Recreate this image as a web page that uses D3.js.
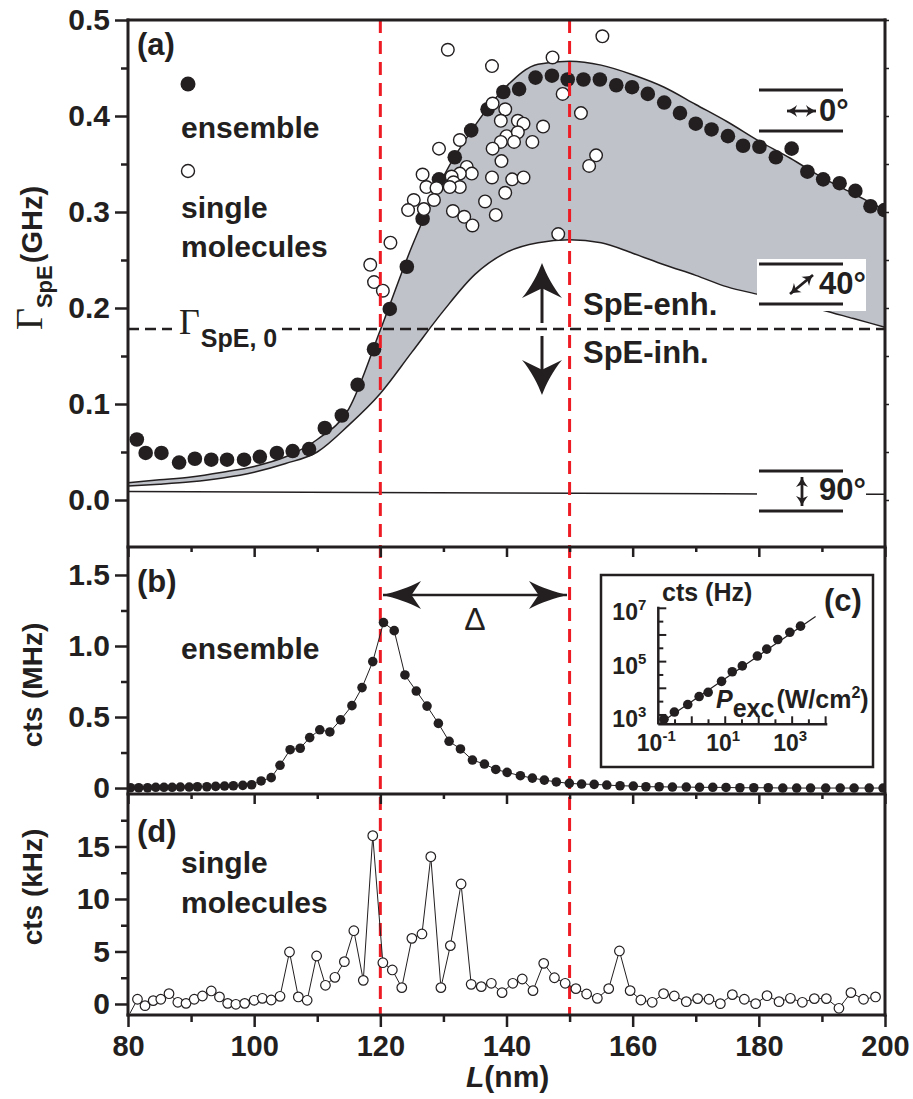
<!DOCTYPE html>
<html>
<head>
<meta charset="utf-8">
<script src="https://cdn.jsdelivr.net/npm/d3@7"></script>
<style>
  body { margin: 0; background: #fff; }
  text { font-family: "Liberation Sans", Arial, sans-serif; font-weight: bold; fill: #231f20; }
</style>
</head>
<body>
<svg id="chart" width="913" height="1099"></svg>
<script>
// ---- data ----
// (a) ensemble: L (nm), Gamma_SpE (GHz)
var ensA_L = [81.4, 82.8, 85.3, 88.1, 90.6, 93.2, 95.7, 98.4, 100.9, 103.6, 106.1, 108.7, 111.2, 113.9, 116.4, 119.0, 121.5, 124.2, 126.7, 129.3, 131.8, 134.4, 137.0, 139.5, 142.0, 144.6, 147.2, 149.7, 152.2, 154.8, 157.4, 159.9, 162.4, 165.0, 167.5, 170.0, 172.5, 175.1, 177.5, 180.1, 182.7, 185.2, 187.7, 190.2, 192.8, 195.3, 197.7, 199.9];
var ensA_G = [0.063, 0.049, 0.049, 0.039, 0.043, 0.042, 0.042, 0.042, 0.045, 0.049, 0.051, 0.053, 0.075, 0.088, 0.120, 0.157, 0.199, 0.243, 0.293, 0.334, 0.357, 0.385, 0.407, 0.425, 0.428, 0.440, 0.442, 0.438, 0.438, 0.438, 0.432, 0.430, 0.423, 0.414, 0.403, 0.392, 0.386, 0.379, 0.369, 0.368, 0.357, 0.366, 0.342, 0.334, 0.330, 0.322, 0.306, 0.302];
// (a) single molecules
var smA_L = [155.2, 147.3, 137.7, 130.7, 148.9, 151.8, 139.8, 137.8, 139.1, 141.8, 142.7, 145.8, 140.0, 141.8, 139.1, 141.2, 144.1, 137.8, 139.2, 154.2, 153.1, 137.7, 140.9, 142.7, 139.8, 136.6, 138.3, 148.2, 132.6, 129.3, 126.7, 133.7, 134.5, 132.6, 131.3, 131.6, 132.6, 127.3, 128.9, 131.0, 125.3, 128.5, 124.4, 126.9, 131.5, 133.3, 134.6, 121.6, 118.4, 119.0, 120.4];
var smA_G = [0.483, 0.461, 0.452, 0.469, 0.423, 0.403, 0.407, 0.413, 0.395, 0.395, 0.392, 0.389, 0.379, 0.383, 0.373, 0.373, 0.373, 0.366, 0.353, 0.359, 0.348, 0.336, 0.334, 0.336, 0.320, 0.311, 0.297, 0.277, 0.375, 0.366, 0.339, 0.347, 0.340, 0.340, 0.337, 0.331, 0.326, 0.326, 0.325, 0.326, 0.3125, 0.3125, 0.302, 0.303, 0.301, 0.295, 0.286, 0.268, 0.245, 0.227, 0.218];
// (a) model curves for dipole angle 0, 40 and 90 deg
var curveL = [80, 85, 90, 95, 100, 105, 110, 115, 120, 125, 130, 135, 140, 145, 150, 155, 160, 165, 170, 175, 180, 185, 190, 195, 200];
var curve0 = [0.018, 0.021, 0.024, 0.029, 0.035, 0.045, 0.063, 0.095, 0.177, 0.264, 0.337, 0.390, 0.431, 0.454, 0.457, 0.453, 0.443, 0.430, 0.412, 0.394, 0.374, 0.356, 0.336, 0.319, 0.302];
var curve40 = [0.0146, 0.0165, 0.019, 0.023, 0.029, 0.038, 0.050, 0.078, 0.111, 0.154, 0.197, 0.235, 0.258, 0.268, 0.271, 0.268, 0.257, 0.245, 0.234, 0.222, 0.214, 0.206, 0.198, 0.189, 0.180];
var curve90L = [80, 140, 200];
var curve90 = [0.0088, 0.0072, 0.006];
var gamma0 = 0.178;
// (b) ensemble counts (MHz)
var ensB_L = [80.4, 81.7, 83.1, 84.4, 85.7, 87.0, 88.3, 89.7, 91.0, 92.5, 93.9, 95.3, 96.7, 98.2, 99.6, 101.1, 102.7, 104.1, 105.7, 107.3, 108.8, 110.4, 112.0, 113.7, 115.5, 117.1, 118.8, 120.5, 122.2, 123.9, 125.7, 127.4, 129.2, 130.9, 132.7, 134.6, 136.5, 138.3, 140.1, 142.2, 144.1, 146.0, 147.9, 149.96, 151.9, 153.9, 155.9, 158.0, 160.1, 162.1, 164.2, 166.3, 168.5, 170.6, 172.7, 174.8, 177.0, 179.2, 181.5, 183.8, 186.0, 188.2, 190.6, 192.9, 195.1, 197.5, 199.7];
var ensB_C = [0.002, 0.002, 0.002, 0.005, 0.005, 0.005, 0.007, 0.007, 0.009, 0.009, 0.012, 0.014, 0.016, 0.019, 0.023, 0.05, 0.073, 0.16, 0.27, 0.28, 0.355, 0.41, 0.395, 0.48, 0.58, 0.707, 0.89, 1.165, 1.108, 0.796, 0.683, 0.577, 0.455, 0.329, 0.275, 0.197, 0.169, 0.131, 0.110, 0.087, 0.070, 0.056, 0.043, 0.033, 0.028, 0.026, 0.021, 0.016, 0.014, 0.009, 0.009, 0.007, 0.007, 0.005, 0.005, 0.004, 0.002, 0.002, 0.002, 0.0, 0.0, 0.0, 0.0, 0.0, 0.0, 0.0, 0.0];
// (c) inset: excitation power (W/cm2) vs counts (Hz)
var insP = [0.148, 0.302, 0.759, 1.66, 3.09, 7.76, 16.2, 32.4, 91.2, 174, 372, 851, 1778];
var insC = [692, 1288, 2455, 4898, 7079, 18197, 41687, 69183, 162181, 295121, 676083, 1260000, 2140000];
var insFitP = [0.112, 5012];
var insFitC = [490, 4900000];
// (d) single molecule counts (kHz)
var smD_L = [81.5, 82.7, 84.0, 85.2, 86.5, 87.9, 89.2, 90.5, 91.8, 93.2, 94.5, 95.8, 97.1, 98.5, 100.0, 101.3, 102.7, 104.1, 105.6, 107.0, 108.4, 109.9, 111.3, 112.8, 114.3, 115.8, 117.3, 118.8, 120.4, 121.9, 123.4, 125.0, 126.6, 128.0, 129.6, 131.1, 132.8, 134.4, 136.0, 137.6, 139.3, 141.0, 142.5, 144.2, 145.9, 147.6, 149.3, 151.0, 152.7, 154.4, 156.2, 157.9, 159.6, 161.3, 163.1, 164.9, 166.6, 168.5, 170.3, 172.1, 173.9, 175.8, 177.7, 179.5, 181.3, 183.2, 185.0, 186.9, 188.8, 190.7, 192.7, 194.6, 196.6, 198.5];
var smD_C = [0.45, -0.16, 0.32, 0.45, 0.98, 0.16, 0.06, 0.45, 0.76, 1.24, 0.67, 0.06, -0.03, 0.06, 0.35, 0.54, 0.38, 0.73, 4.95, 0.67, 0.35, 4.57, 1.78, 2.54, 4.03, 6.98, 2.25, 16.03, 3.93, 3.24, 1.56, 6.25, 6.67, 14.03, 1.56, 5.56, 11.43, 1.87, 1.65, 1.97, 1.08, 1.97, 2.38, 1.27, 3.87, 2.5, 1.97, 1.46, 0.95, 0.54, 1.46, 5.05, 1.27, 0.38, 0.16, 0.98, 0.76, 0.22, 0.51, 0.45, 0.03, 0.89, 0.45, 0.03, 0.79, 0.22, 0.54, 0.16, 0.51, 0.51, -0.41, 1.08, 0.45, 0.67];
var smD_start = [80.3, -0.9];
// ticks
var xTicks = [80, 100, 120, 140, 160, 180, 200];
var xMinor = [90, 110, 130, 150, 170, 190];
var aTicks = [0, 0.1, 0.2, 0.3, 0.4, 0.5];
var bTicks = [0, 0.5, 1.0, 1.5];
var bLabels = ["0", "0.5", "1.0", "1.5"];
var dTicks = [0, 5, 10, 15];
var markL = [120, 150];

// ---- layout ----
var svg = d3.select("#chart");
var X0 = 128, X1 = 885, TA = 20, TB = 547, TD = 794, BOT = 1015;
var INK = "#231f20", RED = "#ed1c24", GRAY = "#bfc2c9";

var x = d3.scaleLinear().domain([80, 200]).range([X0, X1]);
var yA = d3.scaleLinear().domain([-0.05, 0.5]).range([548, TA]);
var yB = d3.scaleLinear().domain([-0.042, 1.697]).range([TD, TB]);
var yD = d3.scaleLinear().domain([-1.05, 20]).range([BOT, TD]);

var defs = svg.append("defs");
[["clipA", TA, TB], ["clipB", TB, TD], ["clipD", TD, BOT]].forEach(function (c) {
  defs.append("clipPath").attr("id", c[0]).append("rect")
    .attr("x", X0).attr("y", c[1]).attr("width", X1 - X0).attr("height", c[2] - c[1]);
});

// ---- panel (a) ----
var gA = svg.append("g").attr("clip-path", "url(#clipA)");
var band = curveL.map(function (d, i) { return [d, curve0[i], curve40[i]]; });
gA.append("path").datum(band)
  .attr("d", d3.area().curve(d3.curveMonotoneX)
    .x(function (d) { return x(d[0]); }).y0(function (d) { return yA(d[2]); }).y1(function (d) { return yA(d[1]); }))
  .attr("fill", GRAY);
var lineA = d3.line().curve(d3.curveMonotoneX).x(function (d) { return x(d[0]); }).y(function (d) { return yA(d[1]); });
[curve0, curve40].forEach(function (c) {
  gA.append("path").datum(curveL.map(function (d, i) { return [d, c[i]]; }))
    .attr("d", lineA).attr("fill", "none").attr("stroke", INK).attr("stroke-width", 1.5);
});
gA.append("path").datum(curve90L.map(function (d, i) { return [d, curve90[i]]; }))
  .attr("d", lineA).attr("fill", "none").attr("stroke", INK).attr("stroke-width", 1.5);

// red markers over all panels
svg.selectAll(".redline").data(markL).enter().append("line")
  .attr("x1", function (d) { return x(d); }).attr("x2", function (d) { return x(d); })
  .attr("y1", TA).attr("y2", BOT)
  .attr("stroke", RED).attr("stroke-width", 3).attr("stroke-dasharray", "13,8");

// Gamma_SpE,0 dashed line
gA.append("line").attr("x1", X0).attr("x2", X1).attr("y1", yA(gamma0)).attr("y2", yA(gamma0))
  .attr("stroke", INK).attr("stroke-width", 2.5).attr("stroke-dasharray", "11,6");
svg.append("rect").attr("x", 172).attr("y", yA(gamma0) - 20).attr("width", 110).attr("height", 40).attr("fill", "#fff");
var g0 = svg.append("text").attr("x", 179).attr("y", yA(gamma0) + 5);
g0.append("tspan").text("\u0393").style("font-family", "'Liberation Serif', 'Times New Roman', serif").style("font-weight", "normal").attr("font-size", 36);
g0.append("tspan").text("SpE, 0").attr("font-size", 25).attr("dy", 13).attr("dx", 1);

// angle legend boxes
svg.append("rect").attr("x", 757).attr("y", 259).attr("width", 109).attr("height", 52).attr("fill", "#fff");
svg.append("rect").attr("x", 757).attr("y", 466).attr("width", 109).attr("height", 50).attr("fill", "#fff");
[90, 131, 264, 304, 471, 511].forEach(function (yy) {
  svg.append("line").attr("x1", 759).attr("x2", 843).attr("y1", yy).attr("y2", yy)
    .attr("stroke", INK).attr("stroke-width", 3);
});

function head(g, tx, ty, ang, len, hw, notch) {
  g.append("path")
    .attr("d", "M0,0 C" + (-len * 0.3) + "," + (-hw * 0.2) + " " + (-len * 0.7) + "," + (-hw * 0.55) + " " + (-len) + "," + (-hw) +
      " L" + (-len * notch) + ",0 L" + (-len) + "," + hw +
      " C" + (-len * 0.7) + "," + (hw * 0.55) + " " + (-len * 0.3) + "," + (hw * 0.2) + " 0,0Z")
    .attr("transform", "translate(" + tx + "," + ty + ") rotate(" + ang + ")")
    .attr("fill", INK);
}
function dblArrow(x1, y1, x2, y2, len, hw, sw) {
  var g = svg.append("g");
  var a = Math.atan2(y2 - y1, x2 - x1) * 180 / Math.PI;
  g.append("line").attr("x1", x1).attr("y1", y1).attr("x2", x2).attr("y2", y2)
    .attr("stroke", INK).attr("stroke-width", sw);
  head(g, x2, y2, a, len, hw, 0.75);
  head(g, x1, y1, a + 180, len, hw, 0.75);
}
dblArrow(787, 111, 816, 111, 10, 6, 2.8);
dblArrow(790, 294, 813, 275, 10, 6, 2.8);
dblArrow(802, 477, 802, 506, 10, 6, 2.8);
svg.append("text").attr("x", 819).attr("y", 121).attr("font-size", 31).text("0\u00b0");
svg.append("text").attr("x", 819).attr("y", 294).attr("font-size", 31).text("40\u00b0");
svg.append("text").attr("x", 819).attr("y", 500).attr("font-size", 31).text("90\u00b0");

// SpE enh / inh arrows
var gArr = svg.append("g");
gArr.append("line").attr("x1", 542).attr("x2", 542).attr("y1", 323).attr("y2", 285).attr("stroke", INK).attr("stroke-width", 3);
head(gArr, 542, 263, -90, 35, 20, 0.72);
gArr.append("line").attr("x1", 542).attr("x2", 542).attr("y1", 336).attr("y2", 373).attr("stroke", INK).attr("stroke-width", 3);
head(gArr, 542, 395, 90, 35, 20, 0.72);
svg.append("text").attr("x", 583).attr("y", 315).attr("font-size", 31).text("SpE-enh.");
svg.append("text").attr("x", 583).attr("y", 363).attr("font-size", 31).text("SpE-inh.");

// markers (a)
gA.selectAll(".ensA").data(ensA_L).enter().append("circle")
  .attr("cx", function (d) { return x(d); }).attr("cy", function (d, i) { return yA(ensA_G[i]); })
  .attr("r", 7.3).attr("fill", INK);
gA.selectAll(".smA").data(smA_L).enter().append("circle")
  .attr("cx", function (d) { return x(d); }).attr("cy", function (d, i) { return yA(smA_G[i]); })
  .attr("r", 6.3).attr("fill", "#fff").attr("stroke", INK).attr("stroke-width", 1.4);

// legend (a)
svg.append("circle").attr("cx", 188).attr("cy", 84).attr("r", 7.5).attr("fill", INK);
svg.append("circle").attr("cx", 188).attr("cy", 171).attr("r", 6.5).attr("fill", "#fff").attr("stroke", INK).attr("stroke-width", 1.4);
svg.append("text").attr("x", 137).attr("y", 55).attr("font-size", 31).text("(a)");
svg.append("text").attr("x", 181).attr("y", 138).attr("font-size", 30).text("ensemble");
svg.append("text").attr("x", 181).attr("y", 218).attr("font-size", 30).text("single");
svg.append("text").attr("x", 181).attr("y", 257).attr("font-size", 30).text("molecules");

// ---- panel (b) ----
var gB = svg.append("g").attr("clip-path", "url(#clipB)");
var ptsB = ensB_L.map(function (d, i) { return [d, ensB_C[i]]; });
gB.append("path").datum(ptsB)
  .attr("d", d3.line().x(function (d) { return x(d[0]); }).y(function (d) { return yB(d[1]); }))
  .attr("fill", "none").attr("stroke", INK).attr("stroke-width", 1);
gB.selectAll(".ensB").data(ptsB).enter().append("circle")
  .attr("cx", function (d) { return x(d[0]); }).attr("cy", function (d) { return yB(d[1]); })
  .attr("r", 4.8).attr("fill", INK);
dblArrow(383, 595, 567, 595, 38, 14, 2.5);
svg.append("text").attr("x", 475).attr("y", 630).attr("font-size", 32).attr("text-anchor", "middle")
  .style("font-family", "'Liberation Sans', Arial, sans-serif").style("font-weight", "normal").text("\u0394");
svg.append("text").attr("x", 137).attr("y", 592).attr("font-size", 31).text("(b)");
svg.append("text").attr("x", 181).attr("y", 659).attr("font-size", 30).text("ensemble");

// inset (c)
var IX0 = 658.3, IX1 = 827.3, IYB = 724.3, IYT = 606.7;
svg.append("rect").attr("x", 601).attr("y", 575).attr("width", 272).attr("height", 192)
  .attr("fill", "#fff").attr("stroke", INK).attr("stroke-width", 2.5);
var xi = d3.scaleLog().domain([0.1, Math.pow(10, 4.05)]).range([IX0, IX1]);
var yi = d3.scaleLog().domain([Math.pow(10, 2.65), Math.pow(10, 7.06)]).range([IYB, IYT]);
var gI = svg.append("g");
var halfX = d3.range(-1, 4.01, 0.5), halfY = d3.range(3, 7.01, 0.5);
gI.selectAll(".tx").data(halfX).enter().append("line")
  .attr("x1", function (d) { return xi(Math.pow(10, d)); }).attr("x2", function (d) { return xi(Math.pow(10, d)); })
  .attr("y1", IYB).attr("y2", function (d) { return IYB - (d % 1 === 0 ? 8 : 5); })
  .attr("stroke", INK).attr("stroke-width", 2);
gI.selectAll(".ty").data(halfY).enter().append("line")
  .attr("y1", function (d) { return yi(Math.pow(10, d)); }).attr("y2", function (d) { return yi(Math.pow(10, d)); })
  .attr("x1", IX0).attr("x2", function (d) { return IX0 + (d % 1 === 0 ? 8 : 5); })
  .attr("stroke", INK).attr("stroke-width", 2);
gI.append("line").attr("x1", IX0).attr("x2", IX1).attr("y1", IYB).attr("y2", IYB).attr("stroke", INK).attr("stroke-width", 2.5);
gI.append("line").attr("x1", IX0).attr("x2", IX0).attr("y1", IYB).attr("y2", IYT).attr("stroke", INK).attr("stroke-width", 2.5);
[-1, 1, 3].forEach(function (e) {
  var t = gI.append("text").attr("x", xi(Math.pow(10, e)) - 2).attr("y", 751).attr("font-size", 23).attr("text-anchor", "middle");
  t.append("tspan").text("10");
  t.append("tspan").text(e).attr("font-size", 15).attr("dy", -10);
});
[3, 5, 7].forEach(function (e) {
  var t = gI.append("text").attr("x", IX0 - 12).attr("y", yi(Math.pow(10, e)) + 12).attr("font-size", 23).attr("text-anchor", "end");
  t.append("tspan").text("10");
  t.append("tspan").text(e).attr("font-size", 15).attr("dy", -10);
});
gI.append("path").datum(insFitP.map(function (d, i) { return [d, insFitC[i]]; }))
  .attr("d", d3.line().x(function (d) { return xi(d[0]); }).y(function (d) { return yi(d[1]); }))
  .attr("stroke", INK).attr("stroke-width", 1.2);
gI.selectAll(".ins").data(insP).enter().append("circle")
  .attr("cx", function (d) { return xi(d); }).attr("cy", function (d, i) { return yi(insC[i]); })
  .attr("r", 4.8).attr("fill", INK);
svg.append("text").attr("x", 662).attr("y", 601).attr("font-size", 25).text("cts (Hz)");
svg.append("text").attr("x", 824).attr("y", 611).attr("font-size", 31).text("(c)");
var pt = svg.append("text").attr("x", 716).attr("y", 708).attr("font-size", 25);
pt.append("tspan").text("P").style("font-style", "italic");
pt.append("tspan").text("exc").attr("dy", 9);
pt.append("tspan").text("(W/cm").attr("dy", -9).attr("dx", 2);
pt.append("tspan").text("2").attr("font-size", 16).attr("dy", -10);
pt.append("tspan").text(")").attr("dy", 10);

// ---- panel (d) ----
var gD = svg.append("g").attr("clip-path", "url(#clipD)");
var ptsD = smD_L.map(function (d, i) { return [d, smD_C[i]]; });
gD.append("path").datum([smD_start].concat(ptsD))
  .attr("d", d3.line().x(function (d) { return x(d[0]); }).y(function (d) { return yD(d[1]); }))
  .attr("fill", "none").attr("stroke", INK).attr("stroke-width", 1);
gD.selectAll(".smD").data(ptsD).enter().append("circle")
  .attr("cx", function (d) { return x(d[0]); }).attr("cy", function (d) { return yD(d[1]); })
  .attr("r", 4.8).attr("fill", "#fff").attr("stroke", INK).attr("stroke-width", 1.2);
svg.append("text").attr("x", 137).attr("y", 842).attr("font-size", 31).text("(d)");
svg.append("text").attr("x", 181).attr("y", 873).attr("font-size", 30).text("single");
svg.append("text").attr("x", 181).attr("y", 913).attr("font-size", 30).text("molecules");

// ---- axes and frame ----
function styleAxis(g, fs) {
  g.select(".domain").remove();
  g.selectAll(".tick line").attr("stroke", INK).attr("stroke-width", 2.5);
  g.selectAll(".tick text").attr("fill", INK).attr("font-size", fs)
    .style("font-family", "'Liberation Sans', Arial, sans-serif").style("font-weight", "bold");
  g.attr("font-family", null).attr("font-size", null);
}
function leftAxis(scale, vals, minor, fmt) {
  var g = svg.append("g").attr("transform", "translate(" + X0 + ",0)")
    .call(d3.axisLeft(scale).tickValues(vals).tickSize(13).tickPadding(5).tickSizeOuter(0).tickFormat(fmt));
  styleAxis(g, 30);
  var m = svg.append("g").attr("transform", "translate(" + X0 + ",0)")
    .call(d3.axisLeft(scale).tickValues(minor).tickSize(7).tickSizeOuter(0).tickFormat(""));
  styleAxis(m, 30);
}
leftAxis(yA, aTicks, [0.05, 0.15, 0.25, 0.35, 0.45], d3.format(".1f"));
leftAxis(yB, bTicks, [0.25, 0.75, 1.25], function (d, i) { return bLabels[i]; });
leftAxis(yD, dTicks, [2.5, 7.5, 12.5, 17.5], d3.format("d"));

var rA = svg.append("g").attr("transform", "translate(" + X1 + ",0)")
  .call(d3.axisRight(yA).tickValues(d3.range(0, 0.501, 0.05)).tickSize(4).tickSizeOuter(0).tickFormat(""));
styleAxis(rA, 10);
rA.selectAll(".tick line").attr("stroke-width", 1.5);

[[TB, 10, 5], [TD, 10, 5]].forEach(function (t) {
  var g = svg.append("g").attr("transform", "translate(0," + t[0] + ")")
    .call(d3.axisBottom(x).tickValues(xTicks).tickSize(t[1]).tickSizeOuter(0).tickFormat(""));
  styleAxis(g, 10);
  var m = svg.append("g").attr("transform", "translate(0," + t[0] + ")")
    .call(d3.axisBottom(x).tickValues(xMinor).tickSize(t[2]).tickSizeOuter(0).tickFormat(""));
  styleAxis(m, 10);
});
var bx = svg.append("g").attr("transform", "translate(0," + BOT + ")")
  .call(d3.axisBottom(x).tickValues(xTicks).tickSize(12).tickPadding(8).tickSizeOuter(0));
styleAxis(bx, 29);
var bxm = svg.append("g").attr("transform", "translate(0," + BOT + ")")
  .call(d3.axisBottom(x).tickValues(xMinor).tickSize(7).tickSizeOuter(0).tickFormat(""));
styleAxis(bxm, 29);

var frame = svg.append("g").attr("stroke", INK).attr("stroke-width", 3).attr("stroke-linecap", "square");
frame.append("line").attr("x1", X0).attr("x2", X0).attr("y1", TA).attr("y2", BOT);
frame.append("line").attr("x1", X1).attr("x2", X1).attr("y1", TA).attr("y2", BOT);
[TA, TB, TD, BOT].forEach(function (yy) {
  frame.append("line").attr("x1", X0).attr("x2", X1).attr("y1", yy).attr("y2", yy);
});

// axis titles
var ta = svg.append("text").attr("transform", "translate(42,258) rotate(-90)").attr("text-anchor", "middle");
ta.append("tspan").text("\u0393").style("font-family", "'Liberation Serif', 'Times New Roman', serif").style("font-weight", "normal").attr("font-size", 38);
ta.append("tspan").text("SpE").attr("font-size", 22).attr("dy", 10);
ta.append("tspan").text("(GHz)").attr("font-size", 29).attr("dy", -10).attr("dx", 2);
svg.append("text").attr("transform", "translate(42,685) rotate(-90)").attr("text-anchor", "middle").attr("font-size", 28).text("cts (MHz)");
svg.append("text").attr("transform", "translate(42,887) rotate(-90)").attr("text-anchor", "middle").attr("font-size", 28).text("cts (kHz)");
var tl = svg.append("text").attr("x", 466).attr("y", 1087).attr("font-size", 30);
tl.append("tspan").text("L").style("font-style", "italic");
tl.append("tspan").text("(nm)");
</script>
</body>
</html>
